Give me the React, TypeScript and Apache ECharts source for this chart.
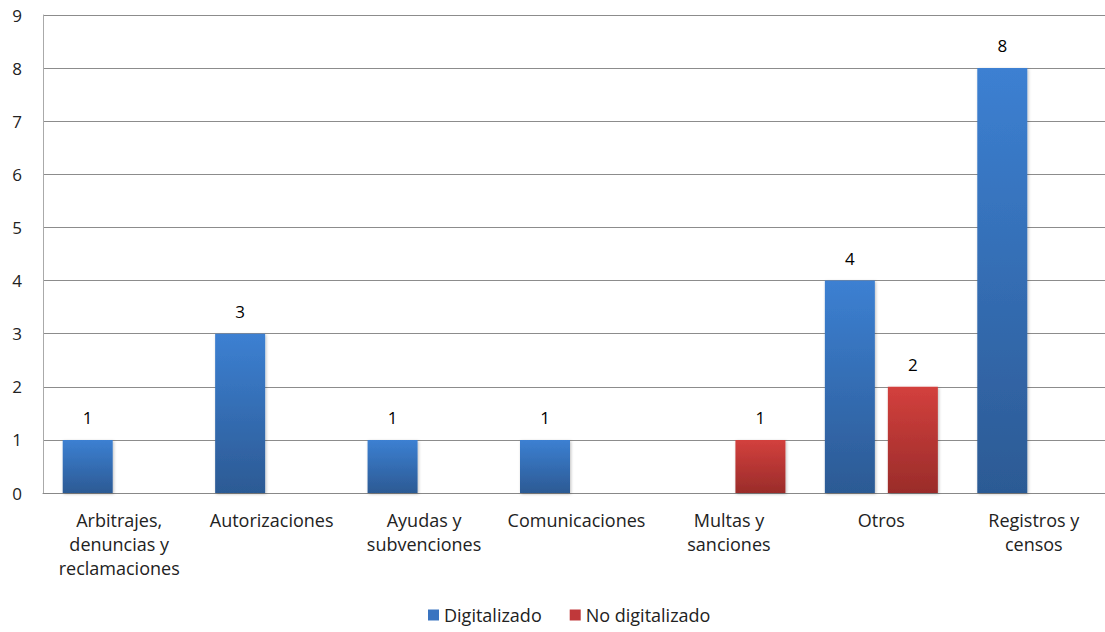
import React, { useEffect, useRef } from "react";
import * as echarts from "echarts";

const categories = [
  "Arbitrajes,\ndenuncias y\nreclamaciones",
  "Autorizaciones",
  "Ayudas y\nsubvenciones",
  "Comunicaciones",
  "Multas y\nsanciones",
  "Otros",
  "Registros y\ncensos",
];
const digitalizado: (number | null)[] = [1, 3, 1, 1, null, 4, 8];
const noDigitalizado: (number | null)[] = [null, null, null, null, 1, 2, null];
const yTicks = { min: 0, max: 9, interval: 1 };

const FONT = "'Open Sans', Lato, sans-serif";

export default function App() {
  const ref = useRef<HTMLDivElement>(null);
  useEffect(() => {
    if (!ref.current) return;
    const chart = echarts.init(ref.current, undefined, { renderer: "svg" });
    const grad = (top: string, bottom: string) =>
      new echarts.graphic.LinearGradient(0, 0, 0, 1, [
        { offset: 0, color: top },
        { offset: 1, color: bottom },
      ]);
    const label = {
      show: true,
      position: "top" as const,
      distance: 14,
      color: "#000",
      fontSize: 17,
      fontFamily: FONT,
    };
    chart.setOption({
      animation: false,
      textStyle: { fontFamily: FONT },
      grid: {
        left: 43,
        width: 1067,
        top: 15,
        bottom: 139,
        containLabel: false,
        outerBoundsMode: "none",
      },
      legend: {
        bottom: 3,
        left: 423,
        itemWidth: 11,
        itemHeight: 11,
        itemGap: 28,
        icon: "rect",
        textStyle: { fontSize: 18, color: "#222", fontFamily: FONT },
        data: [
          { name: "Digitalizado", itemStyle: { color: "#3a74c0" } },
          { name: "No digitalizado", itemStyle: { color: "#c0383a" } },
        ],
      },
      xAxis: {
        type: "category",
        data: categories,
        axisLine: { show: true, lineStyle: { color: "#888" } },
        axisTick: { show: false },
        axisLabel: {
          interval: 0,
          fontSize: 18,
          lineHeight: 24,
          color: "#222",
          margin: 15,
          fontFamily: FONT,
        },
      },
      yAxis: {
        type: "value",
        min: yTicks.min,
        max: yTicks.max,
        interval: yTicks.interval,
        axisLine: { show: true, lineStyle: { color: "#aaa" } },
        axisTick: { show: false },
        splitLine: { show: true, lineStyle: { color: "#8c8c8c", width: 1 } },
        axisLabel: { fontSize: 17, color: "#222", margin: 21, fontFamily: FONT },
      },
      series: [
        {
          name: "Digitalizado",
          type: "bar",
          data: digitalizado,
          barWidth: 50,
          barGap: "26%",
          itemStyle: {
            color: grad("#3c80d2", "#2c5a94"),
            shadowColor: "rgba(0,0,0,0.25)",
            shadowBlur: 3,
            shadowOffsetX: 1,
            shadowOffsetY: 1,
          },
          label,
        },
        {
          name: "No digitalizado",
          type: "bar",
          data: noDigitalizado,
          barWidth: 50,
          barGap: "26%",
          itemStyle: {
            color: grad("#d3403d", "#9a2c2a"),
            shadowColor: "rgba(0,0,0,0.25)",
            shadowBlur: 3,
            shadowOffsetX: 1,
            shadowOffsetY: 1,
          },
          label,
        },
      ],
    });
    return () => chart.dispose();
  }, []);
  return (
    <div
      ref={ref}
      style={{ position: "fixed", left: 0, top: 0, width: 1105, height: 632, background: "#fff" }}
    />
  );
}
